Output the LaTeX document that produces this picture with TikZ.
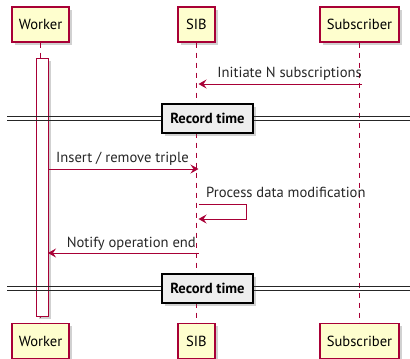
\documentclass[tikz,border=0pt]{standalone}
\usepackage{fontspec}
\setmainfont{PT Sans}
\usetikzlibrary{shadows,arrows.meta}
\definecolor{pborder}{HTML}{A80036}
\definecolor{pfill}{HTML}{FEFECE}
\definecolor{dfill}{HTML}{EEEEEE}
\tikzset{
  shad/.style={drop shadow={shadow xshift=2.5pt,shadow yshift=-2.5pt,opacity=0.3,fill=black!60}},
  part/.style={draw=pborder,fill=pfill,line width=1.1pt,minimum height=35pt,inner sep=0pt,shad,font=\fontsize{14.6}{16}\selectfont},
  life/.style={draw=pborder,dash pattern=on 5pt off 5pt,line width=0.9pt},
  msg/.style={draw=pborder,line width=1pt,-{Stealth[length=8pt,width=9pt,inset=3pt]}},
  lbl/.style={font=\fontsize{14.6}{16}\selectfont,text=black!85,inner sep=0pt},
  divbox/.style={draw=black,fill=dfill,line width=1.3pt,minimum width=91pt,minimum height=29pt,inner sep=0pt,shad,font=\fontsize{14.6}{16}\selectfont\bfseries},
  divline/.style={draw=black!85,line width=1pt},
  actbox/.style={draw=pborder,fill=white,line width=1pt,shad}
}
\begin{document}
\begin{tikzpicture}[x=1pt,y=-1pt]
\useasboundingbox (0,0) rectangle (410,359);
% participants
\node[part,minimum width=57pt] (wt) at (40.5,24.5) {Worker};
\node[part,minimum width=37pt] (st) at (196.5,24.5) {SIB};
\node[part,minimum width=79pt] (ut) at (359.5,24.5) {Subscriber};
\node[part,minimum width=57pt] (wb) at (40.5,341) {Worker};
\node[part,minimum width=37pt] (sb) at (196.5,341) {SIB};
\node[part,minimum width=79pt] (ub) at (359.5,341) {Subscriber};
% lifelines
\draw[life] (wt.south) -- (wb.north);
\draw[life] (st.south) -- (sb.north);
\draw[life] (ut.south) -- (ub.north);
% activation
\node[actbox,minimum width=12pt,minimum height=258pt,inner sep=0pt,anchor=north] (act) at (42,58) {};
% coordinates on lifelines
\coordinate (u1) at (362,84);
\coordinate (s1) at (198.5,84);
\coordinate (a2) at (48,169);
\coordinate (s2) at (198.5,169);
\coordinate (s3a) at (198.5,204);
\coordinate (s3b) at (246,204);
\coordinate (s3c) at (246,219);
\coordinate (s3d) at (198.5,219);
\coordinate (s4) at (198.5,253);
\coordinate (a4) at (48,253);
% dividers
\foreach \yy/\nm in {118.5/d1,288.5/d2}{
  \draw[divline] (7,\yy-1.7) -- (410,\yy-1.7);
  \draw[divline] (7,\yy+1.7) -- (410,\yy+1.7);
}
\node[divbox] (d1) at (207.5,118.5) {Record time};
\node[divbox] (d2) at (207.5,288.5) {Record time};
% messages
\draw[msg] (u1) -- (s1);
\node[lbl,anchor=base east] (l1) at (362,77.5) {Initiate N subscriptions};
\draw[msg] (a2) -- (s2);
\node[lbl,anchor=base west] (l2) at (56,162.5) {Insert / remove triple};
\draw[msg] (s3a) -- (s3b) -- (s3c) -- (s3d);
\node[lbl,anchor=base west] (l3) at (206,197.5) {Process data modification};
\draw[msg] (s4) -- (a4);
\node[lbl,anchor=base east] (l4) at (196,247.5) {Notify operation end};
\end{tikzpicture}
\end{document}
